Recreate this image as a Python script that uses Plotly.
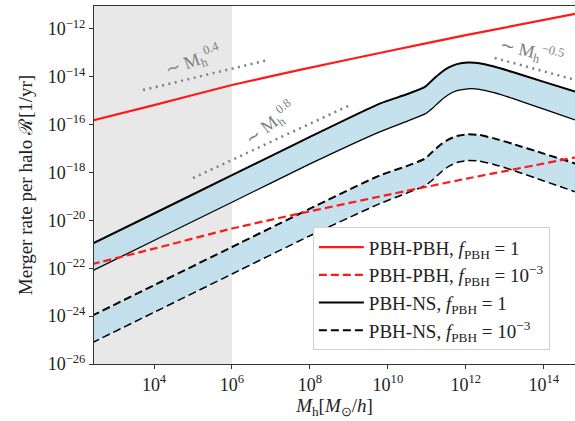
import numpy as np
import plotly.graph_objects as go

# ---- data (log10 values) ----
logM_red = [2.4, 4.0, 6.0, 7.74, 10.0, 12.0, 14.8]
logR_red_f1 = [-15.83, -15.18, -14.34, -13.71, -12.93, -12.26, -11.37]
logR_red_f3 = [-21.83, -21.18, -20.34, -19.71, -18.93, -18.26, -17.37]

logM_ns = [2.4, 4.0, 6.0, 8.0, 9.79, 10.5, 10.95, 11.15, 11.35, 11.55, 11.77,
           12.05, 12.35, 12.7, 13.2, 14.0, 14.8]
logR_ns_f1_up = [-20.99, -19.71, -18.11, -16.51, -15.12, -14.72, -14.42, -14.12,
                 -13.84, -13.62, -13.47, -13.40, -13.43, -13.56, -13.80, -14.21, -14.62]
logR_ns_f1_lo = [-22.12, -20.84, -19.24, -17.64, -16.30, -15.85, -15.55, -15.30,
                 -15.00, -14.75, -14.58, -14.50, -14.52, -14.65, -14.90, -15.35, -15.80]
logR_ns_f3_up = [-23.99, -22.71, -21.11, -19.51, -18.12, -17.72, -17.42, -17.12,
                 -16.84, -16.62, -16.47, -16.40, -16.43, -16.56, -16.80, -17.21, -17.62]
logR_ns_f3_lo = [-25.12, -23.84, -22.24, -20.64, -19.30, -18.85, -18.55, -18.30,
                 -18.00, -17.75, -17.58, -17.50, -17.52, -17.65, -17.90, -18.35, -18.80]

# guide slopes (endpoints, log10)
guide04_x = [3.72, 6.92]; guide04_y = [-14.55, -13.30]
guide08_x = [5.0, 9.03]; guide08_y = [-18.23, -15.18]
guidem05_x = [12.74, 14.85]; guidem05_y = [-13.21, -14.15]

shade_x = [1.0, 6.0, 6.0, 1.0]
shade_y = [-30.0, -30.0, -5.0, -5.0]

xtick_exp = [4, 6, 8, 10, 12, 14]
ytick_exp = [-12, -14, -16, -18, -20, -22, -24, -26]

X_RANGE = [2.46, 14.8]
Y_RANGE = [-26.0, -11.04]

p = lambda a: np.power(10.0, np.array(a, dtype=float))

SERIF = "Liberation Serif, Times New Roman, serif"
BAND = "rgba(190,222,235,0.9)"
DASH = "8px,4px"
SPL = dict(shape="spline", smoothing=0.5)

fig = go.Figure()

# shaded region
fig.add_trace(go.Scatter(x=p(shade_x), y=p(shade_y), fill="toself", mode="lines",
                         line=dict(width=0), fillcolor="#e8e8e8",
                         showlegend=False, hoverinfo="skip"))

# PBH-NS bands (fills first, then lines)
for lo, up in [(logR_ns_f1_lo, logR_ns_f1_up), (logR_ns_f3_lo, logR_ns_f3_up)]:
    fig.add_trace(go.Scatter(x=p(logM_ns), y=p(lo), mode="lines",
                             line=dict(width=0, **SPL), showlegend=False, hoverinfo="skip"))
    fig.add_trace(go.Scatter(x=p(logM_ns), y=p(up), mode="lines", fill="tonexty",
                             fillcolor=BAND, line=dict(width=0, **SPL),
                             showlegend=False, hoverinfo="skip"))

fig.add_trace(go.Scatter(x=p(logM_ns), y=p(logR_ns_f1_lo), mode="lines",
                         line=dict(color="black", width=1.3, **SPL),
                         showlegend=False))
fig.add_trace(go.Scatter(x=p(logM_ns), y=p(logR_ns_f1_up), mode="lines",
                         line=dict(color="black", width=2, **SPL),
                         name="PBH-NS, <i>f</i><sub>PBH</sub> = 1", legendrank=3, legendgroup="c"))
fig.add_trace(go.Scatter(x=p(logM_ns), y=p(logR_ns_f3_lo), mode="lines",
                         line=dict(color="black", width=1.5, dash=DASH, **SPL),
                         showlegend=False))
fig.add_trace(go.Scatter(x=p(logM_ns), y=p(logR_ns_f3_up), mode="lines",
                         line=dict(color="black", width=2, dash=DASH, **SPL),
                         name="PBH-NS, <i>f</i><sub>PBH</sub> = 10<sup>−3</sup>", legendrank=4,
                         legendgroup="d"))

# PBH-PBH
fig.add_trace(go.Scatter(x=p(logM_red), y=p(logR_red_f1), mode="lines",
                         line=dict(color="#ff1a1a", width=2.2, **SPL),
                         name="PBH-PBH, <i>f</i><sub>PBH</sub> = 1", legendrank=1, legendgroup="a"))
fig.add_trace(go.Scatter(x=p(logM_red), y=p(logR_red_f3), mode="lines",
                         line=dict(color="#ff1a1a", width=2.2, dash=DASH, **SPL),
                         name="PBH-PBH, <i>f</i><sub>PBH</sub> = 10<sup>−3</sup>", legendrank=2,
                         legendgroup="b"))

# guides
for gx, gy in [(guide04_x, guide04_y), (guide08_x, guide08_y), (guidem05_x, guidem05_y)]:
    fig.add_trace(go.Scatter(x=p(gx), y=p(gy), mode="lines",
                             line=dict(color="#808080", width=2.5, dash="2px,4.5px"),
                             showlegend=False, hoverinfo="skip"))

ann_font = dict(family=SERIF, size=18, color="#808080")
fig.add_annotation(x=5.0, y=-13.3, text="∼ M<sub>h</sub><sup>0.4</sup>", showarrow=False,
                   textangle=-20, font=ann_font)
fig.add_annotation(x=6.97, y=-15.93, text="∼ M<sub>h</sub><sup>0.8</sup>", showarrow=False,
                   textangle=-38, font=ann_font)
fig.add_annotation(x=13.69, y=-12.96, text="∼ M<sub>h</sub><sup>−0.5</sup>", showarrow=False,
                   textangle=13, font=ann_font)

fig.update_layout(
    width=575, height=421,
    margin=dict(l=94, r=0, t=6, b=57),
    paper_bgcolor="white", plot_bgcolor="white",
    font=dict(family=SERIF, size=17, color="#222"),
    legend=dict(x=0.455, y=0.382, xanchor="left", yanchor="top",
                bgcolor="white", bordercolor="#d0d0d0", borderwidth=1,
                font=dict(family=SERIF, size=19, color="#222"),
                itemwidth=45,
                traceorder="grouped", tracegroupgap=0),
    showlegend=True,
)

fig.update_xaxes(type="log", range=X_RANGE, showgrid=False, zeroline=False,
                 showline=True, mirror=True, linecolor="#333", linewidth=1,
                 ticks="outside", ticklen=4, tickcolor="#333",
                 tickvals=[10.0 ** e for e in xtick_exp],
                 ticktext=[f"10<sup>{e}</sup>" for e in xtick_exp],
                 tickfont=dict(family=SERIF, size=18),
                 title=dict(text="<i>M</i><sub>h</sub>[<i>M</i><sub>⊙</sub>/<i>h</i>]",
                            font=dict(family=SERIF, size=19), standoff=4))
fig.update_yaxes(type="log", range=Y_RANGE, showgrid=False, zeroline=False,
                 showline=True, mirror=True, linecolor="#333", linewidth=1,
                 ticks="outside", ticklen=4, tickcolor="#333",
                 tickvals=[10.0 ** e for e in ytick_exp],
                 ticktext=[f"10<sup>{str(e).replace('-', '−')}</sup>" for e in ytick_exp],
                 tickfont=dict(family=SERIF, size=18),
                 title=dict(text="Merger rate per halo ℛ[1/yr]",
                            font=dict(family=SERIF, size=19), standoff=10))

fig.write_html("out.html")
